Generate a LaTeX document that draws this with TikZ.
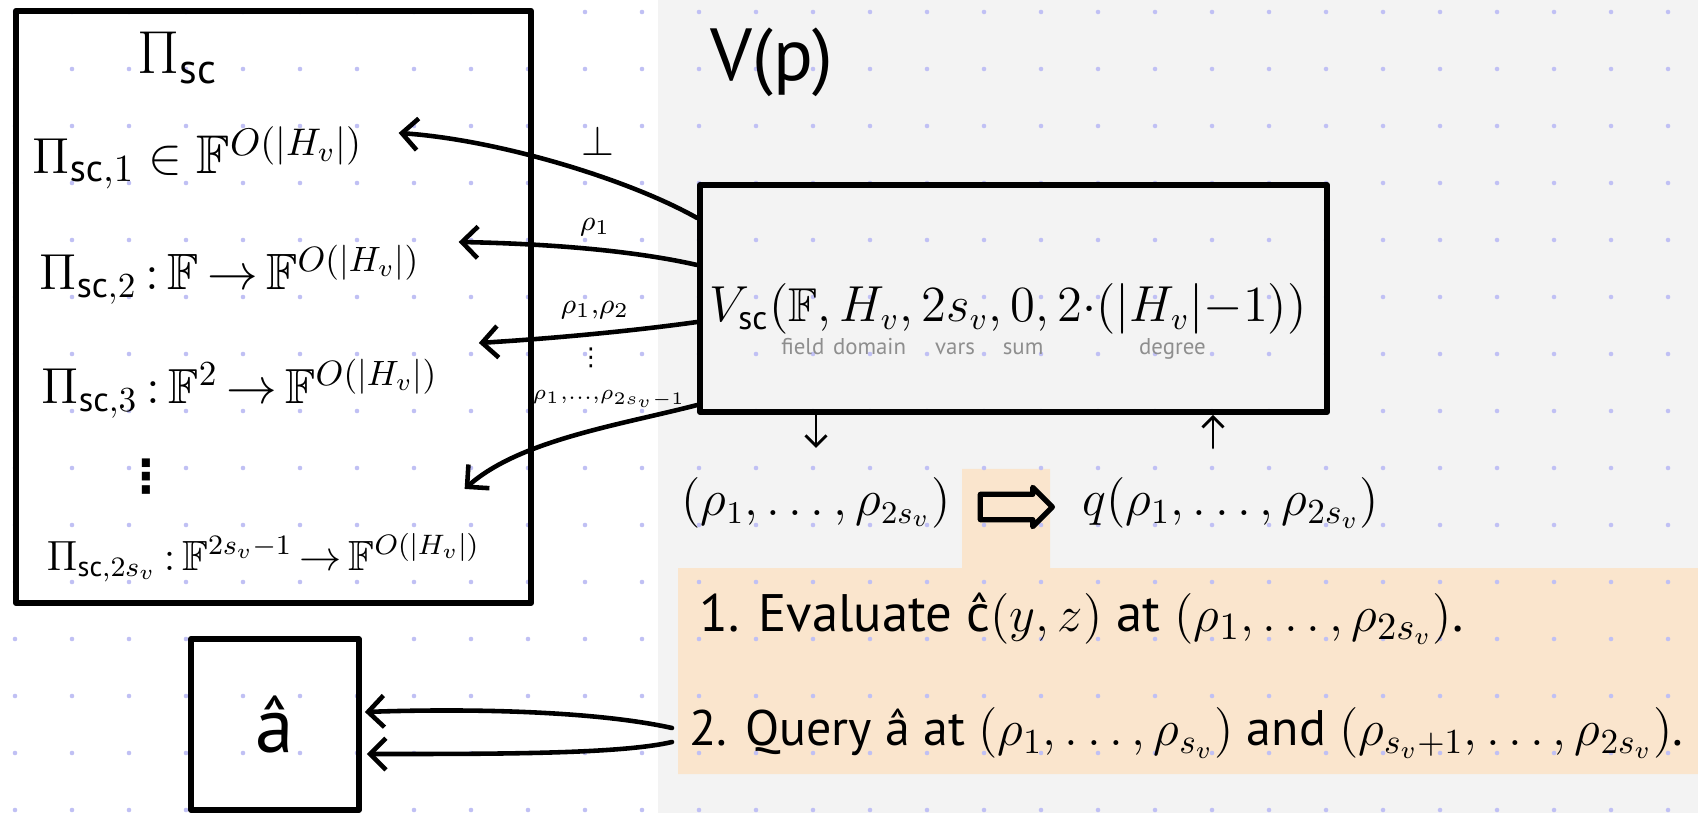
\documentclass[tikz,border=0pt]{standalone}
\usepackage{amsmath,amssymb,mathtools}
\usepackage{fontspec}
\setmainfont{PT Sans}
\newfontfamily\dejavu{DejaVu Sans}
\usetikzlibrary{arrows.meta,shapes.arrows}
\definecolor{panel}{HTML}{F3F3F3}
\definecolor{note}{HTML}{FAE5CD}
\definecolor{griddot}{HTML}{C0C0F4}
\definecolor{lblgray}{HTML}{8E8E8E}
% grey argument names hung under the arguments of V_sc
\newcommand{\argname}[2]{\underset{\mathclap{\text{\fontsize{6.5}{8}\selectfont\color{lblgray}\rule{0pt}{7pt}#2}}}{\smash[b]{#1}}}
\tikzset{
  box/.style={draw, line width=1.6pt, inner sep=0pt},
  pirow/.style={font=\fontsize{14.5}{17}\selectfont, inner sep=0pt},
  wirelbl/.style={font=\fontsize{8.5}{10}\selectfont, inner sep=0pt},
  feed/.style={->, line width=1.3pt},
  tick/.style={-{Straight Barb[length=3pt,width=6pt]}, line width=0.8pt},
  rowtext/.style={font=\fontsize{14.5}{17}\selectfont, inner sep=0pt},
  steptext/.style={font=\fontsize{15}{18}\selectfont, inner sep=0pt},
}

\begin{document}
\begin{tikzpicture}[x=0.01cm, y=-0.01cm, >={Straight Barb[length=4.5pt,width=9pt]}, line cap=round, line join=round]
  \useasboundingbox (0,0) rectangle (1698,813);
  % paper, grey verifier panel and the peach note
  \fill[white] (0,0) rectangle (1698,813);
  \fill[panel] (658,0) rectangle (1698,813);
  \fill[note] (678,568) -- (962,568) -- (962,469) -- (1050,469) -- (1050,568)
    -- (1698,568) -- (1698,774) -- (678,774) -- cycle;
  \foreach \i in {0,...,29}
    \foreach \j in {0,...,14}
      \fill[griddot] (15+57*\i,12+57*\j) circle (0.65pt);

  % (a) the prover's messages
  \node[box, minimum width=5.15cm, minimum height=5.92cm] (pibox) at (273.5,307) {};
  \node[pirow, font=\fontsize{17}{20}\selectfont] (pititle) at (178,58) {$\Pi_{\mathrm{sc}}$};
  \node[pirow, font=\fontsize{15.5}{18}\selectfont, anchor=base west] (pione) at (32,174) {$\Pi_{\mathrm{sc},1} \in \mathbb{F}^{O(|H_v|)}$};
  \node[pirow, anchor=base west] (pitwo) at (39,290) {$\Pi_{\mathrm{sc},2}\,{:}\,\mathbb{F}\,{\to}\,\mathbb{F}^{O(|H_v|)}$};
  \node[pirow, font=\fontsize{14}{17}\selectfont, anchor=base west] (pithree) at (41,404) {$\Pi_{\mathrm{sc},3}\,{:}\,\mathbb{F}^2\,{\to}\,\mathbb{F}^{O(|H_v|)}$};
  \node[pirow, font=\dejavu\bfseries\fontsize{13}{15}\selectfont] (pidots) at (146,477) {⋮};
  \node[pirow, font=\fontsize{12}{14}\selectfont, anchor=base west] (pilast) at (46,570) {$\Pi_{\mathrm{sc},2s_v}\,{:}\,\mathbb{F}^{2s_v-1}\,{\to}\,\mathbb{F}^{O(|H_v|)}$};

  % (b) the verifier and its sum-check call
  \node[font=\fontsize{21}{25}\selectfont] (vp) at (772,62) {V(p)};
  \node[box, minimum width=6.27cm, minimum height=2.27cm] (vsc) at (1013.5,298.5) {};
  \node[font=\fontsize{13.5}{16}\selectfont, inner sep=0pt, anchor=base] (vsctext) at (1008,322)
    {$V_{\mathrm{sc}}(\argname{\mathbb{F}}{field}, \argname{H_v}{domain}, \argname{2s_v}{vars}, \argname{0}{sum}, \argname{2{\cdot}(|H_v|{-}1)}{degree})$};

  % challenges sent back to the prover
  \draw[feed] ([yshift=8.05mm]vsc.west) .. controls (630,180) and (500,140) .. ([xshift=3.5mm,yshift=4.1mm]pione.base east);
  \draw[feed] ([yshift=3.35mm]vsc.west) .. controls (640,252) and (560,244) .. ([xshift=3.8mm,yshift=4.8mm]pitwo.base east);
  \draw[feed] ([yshift=-2.35mm]vsc.west) .. controls (640,330) and (560,338) .. ([xshift=4mm,yshift=6.1mm]pithree.base east);
  \draw[feed] ([yshift=-10.65mm]vsc.west) .. controls (620,425) and (520,440) .. ([xshift=-1.6mm,yshift=8.1mm]pilast.base east);
  \node[wirelbl, font=\fontsize{12}{14}\selectfont] (lblbot) at (598,141) {$\bot$};
  \node[wirelbl] (lblone) at (595,227) {$\rho_1$};
  \node[wirelbl] (lbltwo) at (595,310) {$\rho_1{,}\rho_2$};
  \node[wirelbl, font=\dejavu\fontsize{7}{8}\selectfont] (lbldots) at (591,358) {⋮};
  \node[wirelbl, font=\fontsize{6.5}{8}\selectfont] (lbllast) at (609,399) {$\rho_1{,}{\ldotp}{\ldotp}{\ldotp}{,}\rho_{2s_v-1}$};

  % final point and the value that comes back
  \node[rowtext, font=\fontsize{13.5}{16}\selectfont] (tuple) at (816,503) {$(\rho_1,\ldots,\rho_{2s_v})$};
  \node[single arrow, draw, line width=1.5pt, minimum height=7.2mm, inner sep=1mm,
    single arrow head extend=0.7mm] (imp) at (1010,507) {};
  \node[rowtext] (qval) at (1231,503) {$q(\rho_1,\ldots,\rho_{2s_v})$};
  \draw[tick] (vsc.south -| tuple.north) -- ([yshift=2.9mm]tuple.north);
  \draw[tick] ([xshift=-1.8mm,yshift=2.9mm]qval.north) -- ([xshift=-1.8mm]qval.north |- vsc.south);

  % what the verifier does with it
  \node[steptext, anchor=west] (evalline) at (699,619) {1. Evaluate ĉ$(y,z)$ at $(\rho_1,\ldots,\rho_{2s_v})$.};
  \node[steptext, font=\fontsize{14.2}{17}\selectfont, anchor=west] (queryline) at (689,733) {2. Query â at $(\rho_1,\ldots,\rho_{s_v})$ and $(\rho_{s_v{+}1},\ldots,\rho_{2s_v})$.};
  \node[box, minimum width=1.68cm, minimum height=1.71cm, font=\fontsize{22}{26}\selectfont] (ahat) at (275,724.5) {â};
  \draw[feed] ([xshift=-1.7mm,yshift=0.5mm]queryline.west) .. controls (600,712) and (480,708) .. ([xshift=0.3mm,yshift=1.25mm]ahat.east);
  \draw[feed] ([xshift=-1.7mm,yshift=-0.9mm]queryline.west) .. controls (620,754) and (500,754) .. ([xshift=0.5mm,yshift=-2.95mm]ahat.east);
\end{tikzpicture}
\end{document}
